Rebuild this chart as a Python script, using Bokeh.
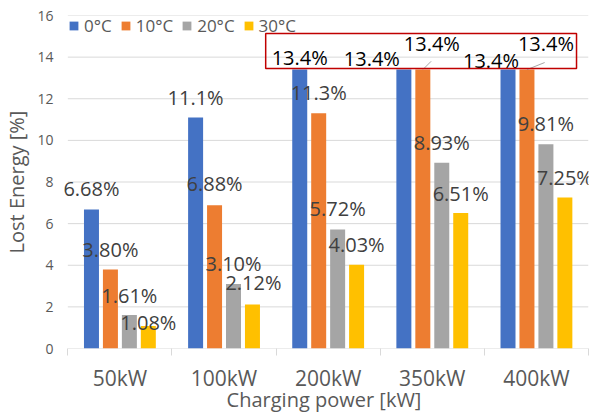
from bokeh.plotting import figure
from bokeh.models import FixedTicker, BoxAnnotation, ColumnDataSource, Range1d, LabelSet
from bokeh.core.properties import value
from bokeh.embed import file_html
from bokeh.resources import INLINE

# Charging power levels and ambient temperatures
powers = ["50kW", "100kW", "200kW", "350kW", "400kW"]
temps = ["0°C", "10°C", "20°C", "30°C"]

# Lost energy [%] per temperature
loss_0c = [6.68, 11.1, 13.4, 13.4, 13.4]
loss_10c = [3.80, 6.88, 11.3, 13.4, 13.4]
loss_20c = [1.61, 3.10, 5.72, 8.93, 9.81]
loss_30c = [1.08, 2.12, 4.03, 6.51, 7.25]
series = [loss_0c, loss_10c, loss_20c, loss_30c]

y_ticks = [0, 2, 4, 6, 8, 10, 12, 14, 16]

colors = ["#4472C4", "#ED7D31", "#A5A5A5", "#FFC000"]
FONT = "Open Sans"
GREY_TEXT = "#595959"
GRID = "#D9D9D9"

# Label nudges in screen pixels (one row per temperature, one column per power)
label_dx = [[0, 0, 0, -32, -17],
            [0, 0, 0, 9, 19],
            [0, 0, 0, 0, 0],
            [0, 1, 0, 0, 0]]
label_dy = [[21, 20, 12, 11, 9],
            [20, 22, 21, 26, 26],
            [19.5, 20.5, 21, 20, 21],
            [3.5, 22, 20, 19.5, 20]]

BAR_WIDTH = 0.144
BAR_PITCH = 0.182
LEFT_PAD = 0.08   # room left of the first category so labels are not clipped
FRAME_H = 333

n = len(powers)
p = figure(frame_width=529, frame_height=FRAME_H,
           x_range=Range1d(-LEFT_PAD, n), y_range=Range1d(0, 16),
           output_backend="svg", toolbar_location=None,
           min_border_left=58, min_border_right=7,
           min_border_top=15, min_border_bottom=69)
p.outline_line_color = None
p.background_fill_color = "white"
p.border_fill_color = "white"

# Horizontal gridlines spanning the categories only
p.xgrid.visible = False
p.ygrid.visible = False
p.segment(x0=[0] * len(y_ticks), x1=[n] * len(y_ticks), y0=y_ticks, y1=y_ticks,
          line_color=GRID, line_width=1)

def fmt(v):
    return f"{v:.2f}%" if v < 10 else f"{v:.1f}%"

peak = max(max(s) for s in series)

for k, vals in enumerate(series):
    xs = [i + 0.5 + (k - 1.5) * BAR_PITCH for i in range(n)]
    p.vbar(x=xs, top=vals, width=BAR_WIDTH, color=colors[k],
           line_color=None, legend_label=temps[k])

# Data labels
for k, vals in enumerate(series):
    xs = [i + 0.5 + (k - 1.5) * BAR_PITCH for i in range(n)]
    src = ColumnDataSource(dict(
        x=xs, y=vals, text=[fmt(v) for v in vals],
        dx=label_dx[k], dy=label_dy[k],
        color=["#000000" if v == peak else "#404040" for v in vals],
    ))
    p.add_layout(LabelSet(x="x", y="y", text="text", x_offset="dx", y_offset="dy",
                          source=src, text_align="center", text_baseline="middle",
                          text_font=value(FONT), text_font_size=value("20px"),
                          text_color="color"))

# Leader lines from the 10°C bars at peak loss to their moved labels
lead_idx = [i for i, v in enumerate(loss_10c) if v == peak and label_dy[1][i] > 25]
lead_dx = {3: 0.08, 4: 0.17}
lead_dy = {3: 0.40, 4: 0.34}
lx = [i + 0.5 - 0.5 * BAR_PITCH for i in lead_idx]
p.segment(x0=lx, y0=[loss_10c[i] for i in lead_idx],
          x1=[x + lead_dx[i] for x, i in zip(lx, lead_idx)],
          y1=[loss_10c[i] + lead_dy[i] for i in lead_idx],
          line_color="#A6A6A6", line_width=1)

# Highlight frame around the peak-loss labels
p.add_layout(BoxAnnotation(left=1.90, right=4.885, bottom=peak + 0.05, top=15.14,
                           fill_alpha=0, line_color="#C00000", line_alpha=1,
                           line_width=1.5))

# Axes
p.yaxis.ticker = FixedTicker(ticks=y_ticks)
p.xaxis.ticker = FixedTicker(ticks=[i + 0.5 for i in range(n)],
                             minor_ticks=list(range(n + 1)))
p.xaxis.major_label_overrides = {i + 0.5: name for i, name in enumerate(powers)}

p.xaxis.axis_line_color = None
p.xaxis.major_tick_line_color = None
p.xaxis.major_tick_out = 0
p.xaxis.major_tick_in = 0
p.xaxis.minor_tick_line_color = GRID
p.xaxis.minor_tick_out = 7
p.xaxis.minor_tick_in = 0
p.xaxis.major_label_standoff = 8
p.xaxis.major_label_text_font = FONT
p.xaxis.major_label_text_font_size = "21px"
p.xaxis.major_label_text_color = GREY_TEXT
p.xaxis.axis_label = "Charging power [kW]"
p.xaxis.axis_label_text_font = FONT
p.xaxis.axis_label_text_font_size = "20px"
p.xaxis.axis_label_text_font_style = "normal"
p.xaxis.axis_label_text_color = GREY_TEXT
p.xaxis.axis_label_standoff = -9

p.yaxis.axis_line_color = None
p.yaxis.major_tick_line_color = None
p.yaxis.minor_tick_line_color = None
p.yaxis.major_tick_out = 0
p.yaxis.major_tick_in = 0
p.yaxis.major_label_standoff = 6
p.yaxis.major_label_text_font = FONT
p.yaxis.major_label_text_font_size = "14px"
p.yaxis.major_label_text_color = GREY_TEXT
p.yaxis.axis_label = "Lost Energy [%]"
p.yaxis.axis_label_text_font = FONT
p.yaxis.axis_label_text_font_size = "20px"
p.yaxis.axis_label_text_font_style = "normal"
p.yaxis.axis_label_text_color = GREY_TEXT
p.yaxis.axis_label_standoff = 4

# Legend along the top edge, starting at the first category boundary
lg = p.legend[0]
lg.location = (9, FRAME_H - 22)
lg.orientation = "horizontal"
lg.glyph_width = 11
lg.glyph_height = 11
lg.label_standoff = 5
lg.spacing = 8
lg.padding = 1
lg.margin = 0
lg.border_line_color = None
lg.background_fill_alpha = 0
lg.label_text_font = FONT
lg.label_text_font_size = "17px"
lg.label_text_color = GREY_TEXT

open("out.html", "w").write(file_html(p, INLINE))
